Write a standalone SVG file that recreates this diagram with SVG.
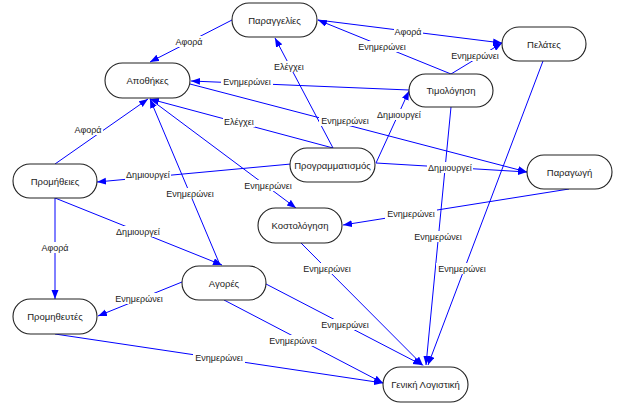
<svg xmlns="http://www.w3.org/2000/svg" width="618" height="405" viewBox="0 0 618 405">
<style>
.n rect{fill:#fff;stroke:#222;stroke-width:1.1}
.n text{font-family:"Liberation Sans",Arial,sans-serif;font-size:9.5px;fill:#222;text-anchor:middle}
.e line{stroke:#0000ff;stroke-width:1;marker-end:url(#ah)}
.l rect{fill:#fff}
.l text{font-family:"Liberation Sans",Arial,sans-serif;font-size:9px;fill:#222;text-anchor:middle}
</style>
<defs>
<marker id="ah" markerUnits="userSpaceOnUse" markerWidth="10" markerHeight="8" refX="9" refY="3.5" orient="auto">
<path d="M0,0 L9,3.5 L0,7 z" fill="#0000ff"/>
</marker>
</defs>
<rect width="618" height="405" fill="#fff"/>
<g id="connectors" class="e">
<line x1="232" y1="20" x2="150" y2="62"/>
<line x1="318" y1="20" x2="502" y2="43"/>
<line x1="451" y1="74" x2="318" y2="20"/>
<line x1="451" y1="74" x2="502" y2="43"/>
<line x1="409" y1="90" x2="191" y2="81"/>
<line x1="190" y1="84" x2="527" y2="172"/>
<line x1="333" y1="148" x2="275" y2="38"/>
<line x1="333" y1="148" x2="150" y2="99"/>
<line x1="376" y1="163" x2="409" y2="91"/>
<line x1="376" y1="163" x2="527" y2="172"/>
<line x1="291" y1="164" x2="97" y2="182"/>
<line x1="150" y1="99" x2="296" y2="208"/>
<line x1="55" y1="164" x2="148" y2="99"/>
<line x1="55" y1="198" x2="55" y2="299"/>
<line x1="55" y1="198" x2="222" y2="265"/>
<line x1="220" y1="265" x2="150" y2="99"/>
<line x1="182" y1="282" x2="98" y2="316"/>
<line x1="266" y1="284" x2="422" y2="365"/>
<line x1="224" y1="300" x2="383" y2="383"/>
<line x1="55" y1="334" x2="383" y2="383"/>
<line x1="301" y1="243" x2="423" y2="365.5"/>
<line x1="451" y1="107" x2="426" y2="365"/>
<line x1="543" y1="61" x2="428" y2="365"/>
<line x1="569" y1="189" x2="343" y2="225"/>
</g>
<g id="labels" class="l">
<rect x="175" y="36" width="29" height="11"/><text x="189" y="45">Αφορά</text>
<rect x="394" y="26" width="29" height="11"/><text x="408" y="35">Αφορά</text>
<rect x="356" y="41" width="52" height="11"/><text x="382" y="50">Ενημερώνει</text>
<rect x="449" y="50" width="52" height="11"/><text x="475" y="59">Ενημερώνει</text>
<rect x="221" y="76" width="52" height="11"/><text x="247" y="85">Ενημερώνει</text>
<rect x="319" y="115" width="52" height="11"/><text x="345" y="124">Ενημερώνει</text>
<rect x="273" y="61" width="32" height="11"/><text x="289" y="70">Ελέγχει</text>
<rect x="223" y="116" width="32" height="11"/><text x="239" y="125">Ελέγχει</text>
<rect x="376" y="109" width="46" height="11"/><text x="399" y="118">Δημιουργεί</text>
<rect x="427" y="162" width="46" height="11"/><text x="450" y="171">Δημιουργεί</text>
<rect x="125" y="169" width="46" height="11"/><text x="148" y="178">Δημιουργεί</text>
<rect x="242" y="180" width="52" height="11"/><text x="268" y="189">Ενημερώνει</text>
<rect x="74" y="124" width="29" height="11"/><text x="88" y="133">Αφορά</text>
<rect x="41" y="242" width="29" height="11"/><text x="55" y="251">Αφορά</text>
<rect x="115" y="226" width="46" height="11"/><text x="138" y="235">Δημιουργεί</text>
<rect x="164" y="188" width="52" height="11"/><text x="190" y="197">Ενημερώνει</text>
<rect x="113" y="293" width="52" height="11"/><text x="139" y="302">Ενημερώνει</text>
<rect x="319" y="319" width="52" height="11"/><text x="345" y="328">Ενημερώνει</text>
<rect x="267" y="335" width="52" height="11"/><text x="293" y="344">Ενημερώνει</text>
<rect x="193" y="352" width="52" height="11"/><text x="219" y="361">Ενημερώνει</text>
<rect x="301" y="263" width="52" height="11"/><text x="327" y="272">Ενημερώνει</text>
<rect x="412" y="231" width="52" height="11"/><text x="438" y="240">Ενημερώνει</text>
<rect x="436" y="263" width="52" height="11"/><text x="462" y="272">Ενημερώνει</text>
<rect x="385" y="208" width="52" height="11"/><text x="411" y="217">Ενημερώνει</text>
</g>
<g id="n-paraggelies" class="n"><rect x="232" y="3" width="85" height="34" rx="17"/><text x="274.5" y="23.5">Παραγγελίες</text></g>
<g id="n-apothikes" class="n"><rect x="105" y="63" width="85" height="35" rx="17.5"/><text x="147.5" y="84">Αποθήκες</text></g>
<g id="n-pelates" class="n"><rect x="502" y="27" width="84" height="34" rx="17"/><text x="544" y="47.5">Πελάτες</text></g>
<g id="n-timologisi" class="n"><rect x="409" y="74" width="84" height="33" rx="16.5"/><text x="451" y="94">Τιμολόγηση</text></g>
<g id="n-promitheies" class="n"><rect x="13" y="164" width="84" height="34" rx="17"/><text x="55" y="184.5">Προμήθειες</text></g>
<g id="n-programmatismos" class="n"><rect x="290" y="148" width="85" height="34" rx="17"/><text x="332.5" y="168.5">Προγραμματισμός</text></g>
<g id="n-paragogi" class="n"><rect x="527" y="155" width="85" height="34" rx="17"/><text x="569.5" y="175.5">Παραγωγή</text></g>
<g id="n-kostologisi" class="n"><rect x="258" y="208" width="84" height="35" rx="17.5"/><text x="300" y="229">Κοστολόγηση</text></g>
<g id="n-agores" class="n"><rect x="182" y="266" width="84" height="34" rx="17"/><text x="224" y="286.5">Αγορές</text></g>
<g id="n-promitheftes" class="n"><rect x="13" y="299" width="84" height="35" rx="17.5"/><text x="55" y="320">Προμηθευτές</text></g>
<g id="n-geniki" class="n"><rect x="383" y="367" width="85" height="35" rx="17.5"/><text x="425.5" y="388">Γενική Λογιστική</text></g>
</svg>
